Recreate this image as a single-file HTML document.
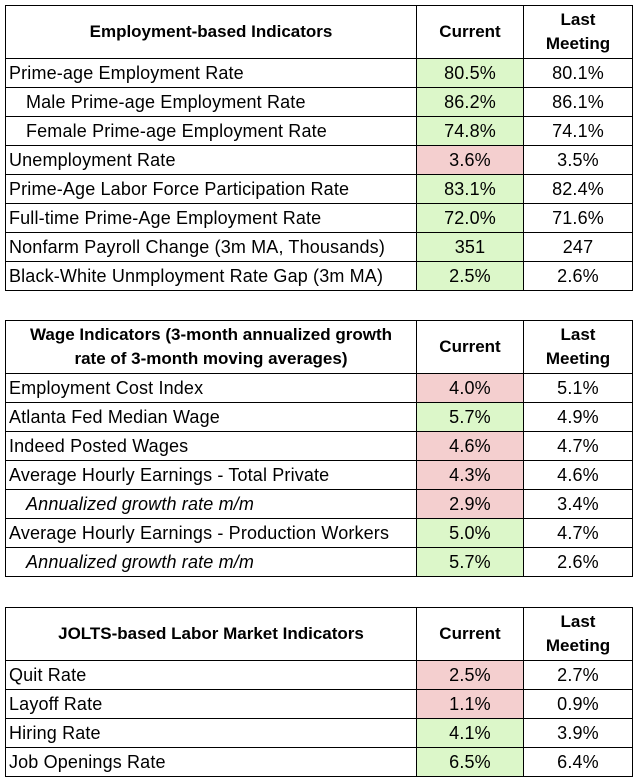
<!DOCTYPE html>
<html><head><meta charset="utf-8"><style>
html,body{margin:0;padding:0;background:#fff;width:634px;height:783px;overflow:hidden;position:relative}
body{font-family:"Liberation Sans",sans-serif;color:#000}
table{position:absolute;left:5px;border-collapse:collapse;table-layout:fixed;width:627px}
td{border:1.5px solid #000;padding:0 3px;font-size:18px;letter-spacing:0.15px;height:28px;white-space:nowrap;overflow:hidden}
td.n{text-align:center}
th{border:1.5px solid #000;font-size:17px;font-weight:bold;height:52px;line-height:24px;padding:0 4px;white-space:nowrap}
.g{background:#dcf7c9}.r{background:#f4cfcf}
.ind{padding-left:20px}
.it{font-style:italic}
</style></head><body>
<table style="top:5px">
<colgroup><col style="width:411px"><col style="width:107px"><col style="width:109px"></colgroup>
<tr><th>Employment-based Indicators</th><th>Current</th><th>Last<br>Meeting</th></tr>
<tr><td>Prime-age Employment Rate</td><td class="n g">80.5%</td><td class="n">80.1%</td></tr>
<tr><td class="ind">Male Prime-age Employment Rate</td><td class="n g">86.2%</td><td class="n">86.1%</td></tr>
<tr><td class="ind">Female Prime-age Employment Rate</td><td class="n g">74.8%</td><td class="n">74.1%</td></tr>
<tr><td>Unemployment Rate</td><td class="n r">3.6%</td><td class="n">3.5%</td></tr>
<tr><td>Prime-Age Labor Force Participation Rate</td><td class="n g">83.1%</td><td class="n">82.4%</td></tr>
<tr><td>Full-time Prime-Age Employment Rate</td><td class="n g">72.0%</td><td class="n">71.6%</td></tr>
<tr><td>Nonfarm Payroll Change (3m MA, Thousands)</td><td class="n g">351</td><td class="n">247</td></tr>
<tr><td>Black-White Unmployment Rate Gap (3m MA)</td><td class="n g">2.5%</td><td class="n">2.6%</td></tr>
</table>
<table style="top:320px">
<colgroup><col style="width:411px"><col style="width:107px"><col style="width:109px"></colgroup>
<tr><th>Wage Indicators (3-month annualized growth<br>rate of 3-month moving averages)</th><th>Current</th><th>Last<br>Meeting</th></tr>
<tr><td>Employment Cost Index</td><td class="n r">4.0%</td><td class="n">5.1%</td></tr>
<tr><td>Atlanta Fed Median Wage</td><td class="n g">5.7%</td><td class="n">4.9%</td></tr>
<tr><td>Indeed Posted Wages</td><td class="n r">4.6%</td><td class="n">4.7%</td></tr>
<tr><td>Average Hourly Earnings - Total Private</td><td class="n r">4.3%</td><td class="n">4.6%</td></tr>
<tr><td class="ind it">Annualized growth rate m/m</td><td class="n r">2.9%</td><td class="n">3.4%</td></tr>
<tr><td>Average Hourly Earnings - Production Workers</td><td class="n g">5.0%</td><td class="n">4.7%</td></tr>
<tr><td class="ind it">Annualized growth rate m/m</td><td class="n g">5.7%</td><td class="n">2.6%</td></tr>
</table>
<table style="top:607px">
<colgroup><col style="width:411px"><col style="width:107px"><col style="width:109px"></colgroup>
<tr><th>JOLTS-based Labor Market Indicators</th><th>Current</th><th>Last<br>Meeting</th></tr>
<tr><td>Quit Rate</td><td class="n r">2.5%</td><td class="n">2.7%</td></tr>
<tr><td>Layoff Rate</td><td class="n r">1.1%</td><td class="n">0.9%</td></tr>
<tr><td>Hiring Rate</td><td class="n g">4.1%</td><td class="n">3.9%</td></tr>
<tr><td>Job Openings Rate</td><td class="n g">6.5%</td><td class="n">6.4%</td></tr>
</table>
</body></html>
